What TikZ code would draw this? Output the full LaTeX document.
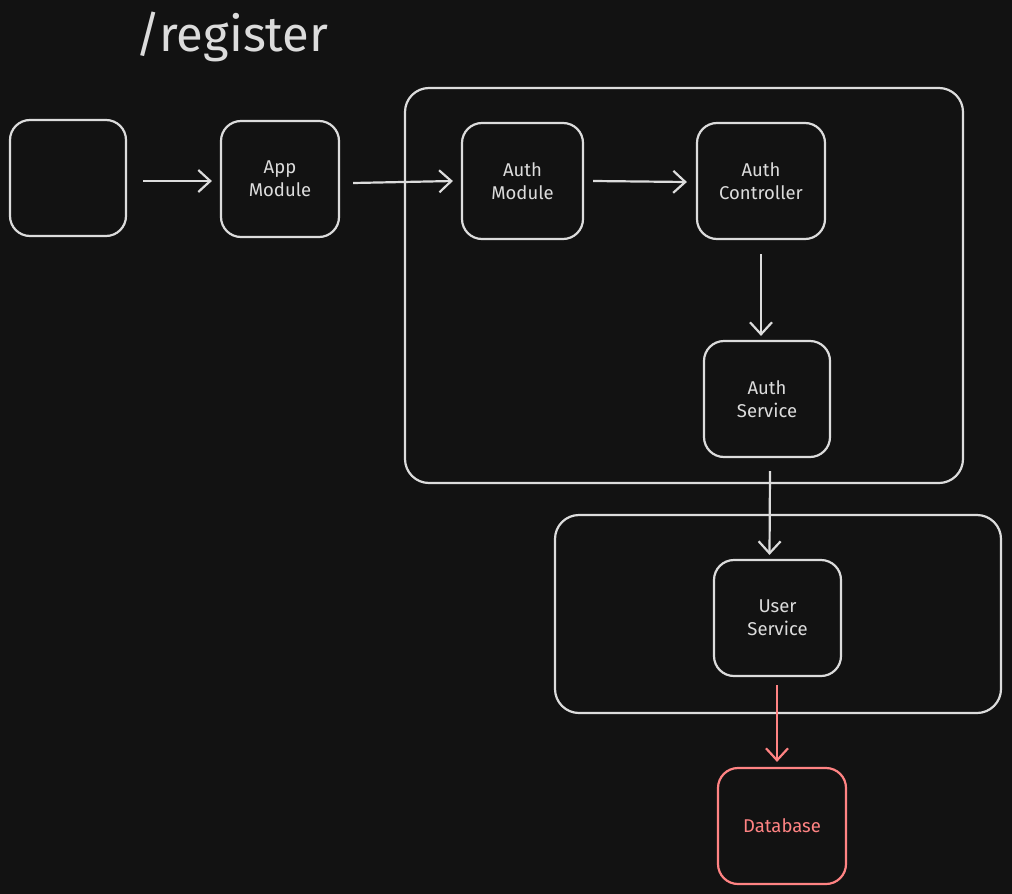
\documentclass[tikz,border=0pt]{standalone}
\usepackage{fontspec}
\setmainfont{Fira Sans}
\usetikzlibrary{arrows.meta}
\definecolor{bg}{HTML}{121212}
\definecolor{ink}{HTML}{DCDCDC}
\definecolor{redink}{HTML}{FF8383}
\tikzset{
  box/.style={draw=ink, line width=2.2pt, rounded corners=20pt, fill=bg, text=ink,
    align=center, font=\fontsize{18.5}{23}\selectfont, inner sep=0pt},
  group/.style={draw=ink, line width=2.2pt, rounded corners=24pt},
  conn/.style={draw=ink, line width=2.2pt, -{Straight Barb[length=12pt,width=22pt,line width=2.2pt]}},
}
\begin{document}
\begin{tikzpicture}[x=1pt,y=-1pt]
\fill[bg] (0,0) rectangle (1012,894);
\useasboundingbox (0,0) rectangle (1012,894);
% containers
\draw[group] (405,88) rectangle (963,483);
\draw[group] (555,515) rectangle (1001,713);
% title
\node[text=ink, font=\fontsize{49}{54}\selectfont] (title) at (232,37) {/register};
% boxes
\node[box, minimum width=116pt, minimum height=116pt] (client) at (68,178) {};
\node[box, minimum width=118pt, minimum height=116pt] (app) at (280,179) {App\\Module};
\node[box, minimum width=121pt, minimum height=116pt] (amod) at (522.5,181) {Auth\\Module};
\node[box, minimum width=128pt, minimum height=116pt] (actl) at (761,181) {Auth\\Controller};
\node[box, minimum width=126pt, minimum height=116pt] (asvc) at (767,399) {Auth\\Service};
\node[box, minimum width=127pt, minimum height=116pt] (usvc) at (777.5,618) {User\\Service};
\node[box, draw=redink, text=redink, minimum width=128pt, minimum height=116pt] (db) at (782,826) {Database};
% connectors
\draw[conn] ([xshift=16pt,yshift=-3pt]client.east) -- ([xshift=-8pt,yshift=-2pt]app.west);
\draw[conn] ([xshift=13pt,yshift=-4pt]app.east) -- ([xshift=-8pt]amod.west);
\draw[conn] ([xshift=9pt]amod.east) -- ([xshift=-9pt,yshift=-1pt]actl.west);
\draw[conn] ([yshift=-14pt]actl.south) -- ([xshift=-6pt,yshift=4pt]asvc.north);
\draw[conn] ([xshift=3pt,yshift=-13pt]asvc.south) -- ([xshift=-8pt,yshift=4pt]usvc.north);
\draw[conn, draw=redink] ([xshift=-0.5pt,yshift=-8pt]usvc.south) -- ([xshift=-5pt,yshift=5pt]db.north);
\end{tikzpicture}
\end{document}
